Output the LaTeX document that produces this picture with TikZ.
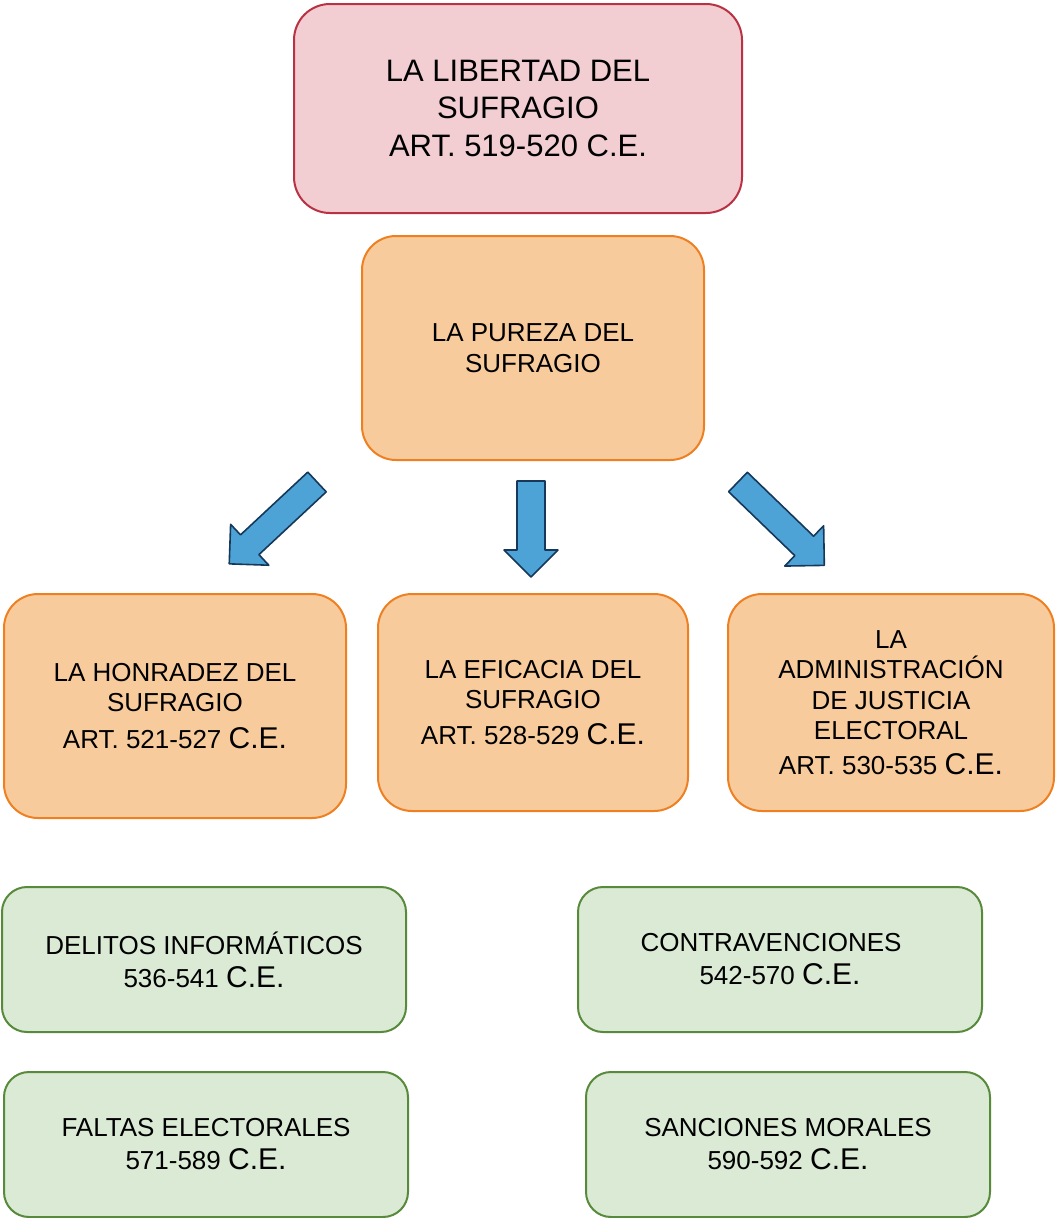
\documentclass[tikz,border=0pt]{standalone}
\usepackage{fontspec}
\setmainfont{Liberation Sans}
\definecolor{pinkfill}{RGB}{242,206,211}
\definecolor{pinkline}{RGB}{184,50,68}
\definecolor{orfill}{RGB}{248,203,156}
\definecolor{orline}{RGB}{238,128,34}
\definecolor{grfill}{RGB}{218,234,212}
\definecolor{grline}{RGB}{88,138,60}
\definecolor{arfill}{RGB}{78,163,214}
\definecolor{arline}{RGB}{22,56,90}
\newcommand\bigCE{{\fontsize{30}{30}\selectfont C.E.}}
\begin{document}
\begin{tikzpicture}[x=1pt,y=-1pt,
  box/.style={rectangle, line width=2pt, align=center, inner sep=0pt},
  pinkbox/.style={box, rounded corners=36pt, fill=pinkfill, draw=pinkline, font=\fontsize{31}{37}\selectfont},
  orbox/.style={box, rounded corners=34pt, fill=orfill, draw=orline, font=\fontsize{26}{30.5}\selectfont},
  grbox/.style={box, rounded corners=25pt, fill=grfill, draw=grline, font=\fontsize{26}{30}\selectfont},
  blockarrow/.style={fill=arfill, draw=arline, line width=1.6pt, line join=round}
]
\useasboundingbox (0,0) rectangle (1055,1218);

\node[pinkbox, minimum width=448, minimum height=209] (libertad) at (518,108.5)
  {LA LIBERTAD DEL\\SUFRAGIO\\[1pt] ART. 519-520 C.E.};
\node[orbox, minimum width=342, minimum height=224] (pureza) at (533,348)
  {LA PUREZA DEL\\SUFRAGIO};

\node[orbox, minimum width=342, minimum height=224] (honradez) at (175,706)
  {LA HONRADEZ DEL\\SUFRAGIO\\[6pt] ART. 521-527 \bigCE};
\node[orbox, minimum width=310, minimum height=217] (eficacia) at (533,702.5)
  {LA EFICACIA DEL\\SUFRAGIO\\[5pt] ART. 528-529 \bigCE};
\node[orbox, minimum width=326, minimum height=217] (justicia) at (891,702.5)
  {LA\\ADMINISTRACIÓN\\DE JUSTICIA\\ELECTORAL\\[4pt] ART. 530-535 \bigCE};

\node[grbox, minimum width=404, minimum height=145] (delitos) at (204,959.5)
  {DELITOS INFORMÁTICOS\\[3pt] 536-541 \bigCE};
\node[grbox, minimum width=404, minimum height=145] (contra) at (780,959.5)
  {CONTRAVENCIONES\hspace*{18pt}\\[3pt] 542-570 \bigCE};
\node[grbox, minimum width=404, minimum height=145] (faltas) at (206,1144.5)
  {FALTAS ELECTORALES\\[3pt] 571-589 \bigCE};
\node[grbox, minimum width=404, minimum height=145] (sanciones) at (788,1144.5)
  {SANCIONES MORALES\\[3pt] 590-592 \bigCE};

% block arrows
\draw[blockarrow, shift={(317,482)}, rotate=-47]
  (-13.5,0) -- (13.5,0) -- (13.5,92) -- (28,92) -- (0,120) -- (-28,92) -- (-13.5,92) -- cycle;
\draw[blockarrow, shift={(531,481)}]
  (-14,0) -- (14,0) -- (14,69) -- (27,69) -- (0,96) -- (-27,69) -- (-14,69) -- cycle;
\draw[blockarrow, shift={(738,482)}, rotate=46]
  (-13.5,0) -- (13.5,0) -- (13.5,92) -- (28,92) -- (0,120) -- (-28,92) -- (-13.5,92) -- cycle;
\end{tikzpicture}
\end{document}
